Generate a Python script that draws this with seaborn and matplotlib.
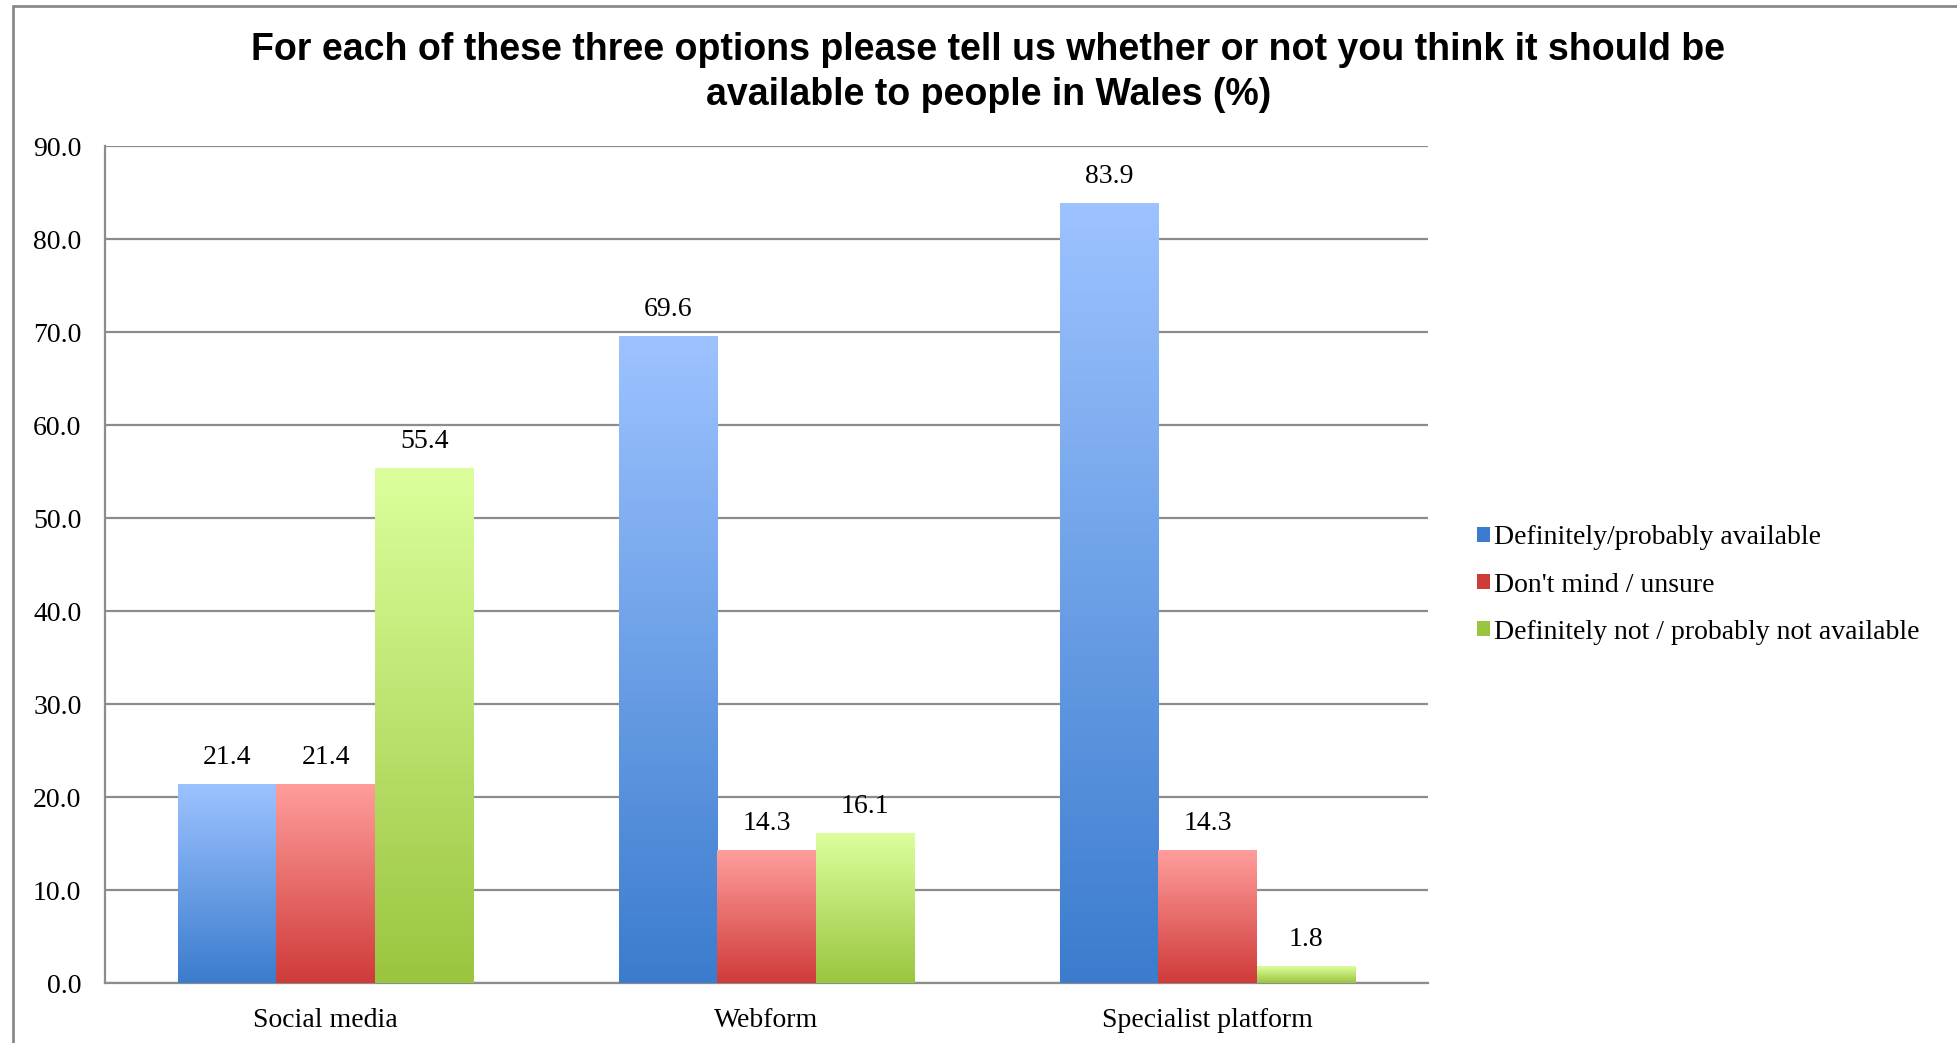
import numpy as np
import pandas as pd
import seaborn as sns
import matplotlib.pyplot as plt
from matplotlib.colors import LinearSegmentedColormap
from matplotlib.lines import Line2D
from matplotlib.patches import Patch

# Survey results (%)
categories = ["Social media", "Webform", "Specialist platform"]
responses = [
    "Definitely/probably available",
    "Don't mind / unsure",
    "Definitely not / probably not available",
]
definitely_available = [21.4, 69.6, 83.9]
dont_mind_unsure = [21.4, 14.3, 14.3]
definitely_not_available = [55.4, 16.1, 1.8]
y_ticks = [0, 10, 20, 30, 40, 50, 60, 70, 80, 90]

title = ("For each of these three options please tell us whether or not you think it should be\n"
         "available to people in Wales (%)")

# (top colour, bottom colour) for each response's gradient fill
gradients = {
    responses[0]: ("#9dc3ff", "#3b7cce"),
    responses[1]: ("#ff9e9c", "#cf3b39"),
    responses[2]: ("#dcff9c", "#9ac53f"),
}

df = pd.DataFrame({
    "option": np.repeat(categories, len(responses)),
    "response": responses * len(categories),
    "pct": [v for trio in zip(definitely_available, dont_mind_unsure, definitely_not_available) for v in trio],
})

sns.set_theme(style="white")
plt.rcParams["font.family"] = ["Liberation Serif", "DejaVu Serif"]
plt.rcParams["text.color"] = "black"
plt.rcParams["xtick.labelcolor"] = "black"
plt.rcParams["ytick.labelcolor"] = "black"

fig = plt.figure(figsize=(19.57, 10.43), dpi=100)
ax = fig.add_axes([0.0537, 0.0575, 0.676, 0.8025])

mid_colors = {k: v[1] for k, v in gradients.items()}
sns.barplot(data=df, x="option", y="pct", hue="response", order=categories,
            hue_order=responses, palette=mid_colors, width=0.67, gap=0,
            saturation=1, linewidth=0, legend=False, ax=ax, zorder=3)

# Vertical gradient inside every bar
ramp = np.linspace(0, 1, 256).reshape(-1, 1)
for container, resp in zip(ax.containers, responses):
    top, bottom = gradients[resp]
    cmap = LinearSegmentedColormap.from_list(resp, [bottom, top])
    for bar in container:
        x, w, h = bar.get_x(), bar.get_width(), bar.get_height()
        img = ax.imshow(ramp, extent=[x, x + w, 0, h], origin="lower",
                        aspect="auto", cmap=cmap, zorder=3.5, interpolation="bicubic")
        img.set_clip_path(bar)
    ax.bar_label(container, fmt="%.1f", padding=10, fontsize=20, color="black")

ax.set_xlim(-0.5, len(categories) - 0.5)
ax.set_ylim(0, 90)

# Axes styling
grid_col = "#8c8c8c"
ax.set_yticks(y_ticks)
ax.set_yticklabels([f"{t:.1f}" for t in y_ticks], fontsize=20)
ax.yaxis.grid(True, color=grid_col, linewidth=1.6, zorder=0)
ax.set_axisbelow(True)
ax.set_xticks(np.arange(len(categories) + 1) - 0.5)
ax.set_xticklabels([])
ax.set_xticks(np.arange(len(categories)), minor=True)
ax.set_xticklabels(categories, minor=True, fontsize=20)
ax.tick_params(axis="x", which="major", length=8, width=1.5, color=grid_col, direction="out")
ax.tick_params(axis="x", which="minor", length=0, pad=18)
ax.tick_params(axis="y", length=6, width=1.5, color=grid_col, direction="out", pad=11)
ax.set_xlabel("")
ax.set_ylabel("")
for side in ("top", "right"):
    ax.spines[side].set_visible(False)
for side in ("left", "bottom"):
    ax.spines[side].set_color(grid_col)
    ax.spines[side].set_linewidth(1.6)

# Legend with small square keys
handles = [Patch(facecolor=gradients[r][1], edgecolor="none") for r in responses]
fig.legend(handles, responses, loc="center left", bbox_to_anchor=(0.742, 0.439),
           frameon=False, fontsize=20, handlelength=0.45, handleheight=0.45,
           handletextpad=0.15, labelspacing=0.8)

fig.suptitle(title, x=0.505, y=0.969, fontsize=27, fontweight="bold", color="black",
             family=["Liberation Sans", "DejaVu Sans"], linespacing=1.3)

# Outer chart frame (top and left edges)
fig.add_artist(Line2D([13 / 1957, 1], [1 - 6 / 1043, 1 - 6 / 1043], color="#8a8a8a",
                      linewidth=2, transform=fig.transFigure))
fig.add_artist(Line2D([13 / 1957, 13 / 1957], [0, 1 - 6 / 1043], color="#8a8a8a",
                      linewidth=2, transform=fig.transFigure))

fig.savefig("out.png", dpi=100, facecolor="white")
